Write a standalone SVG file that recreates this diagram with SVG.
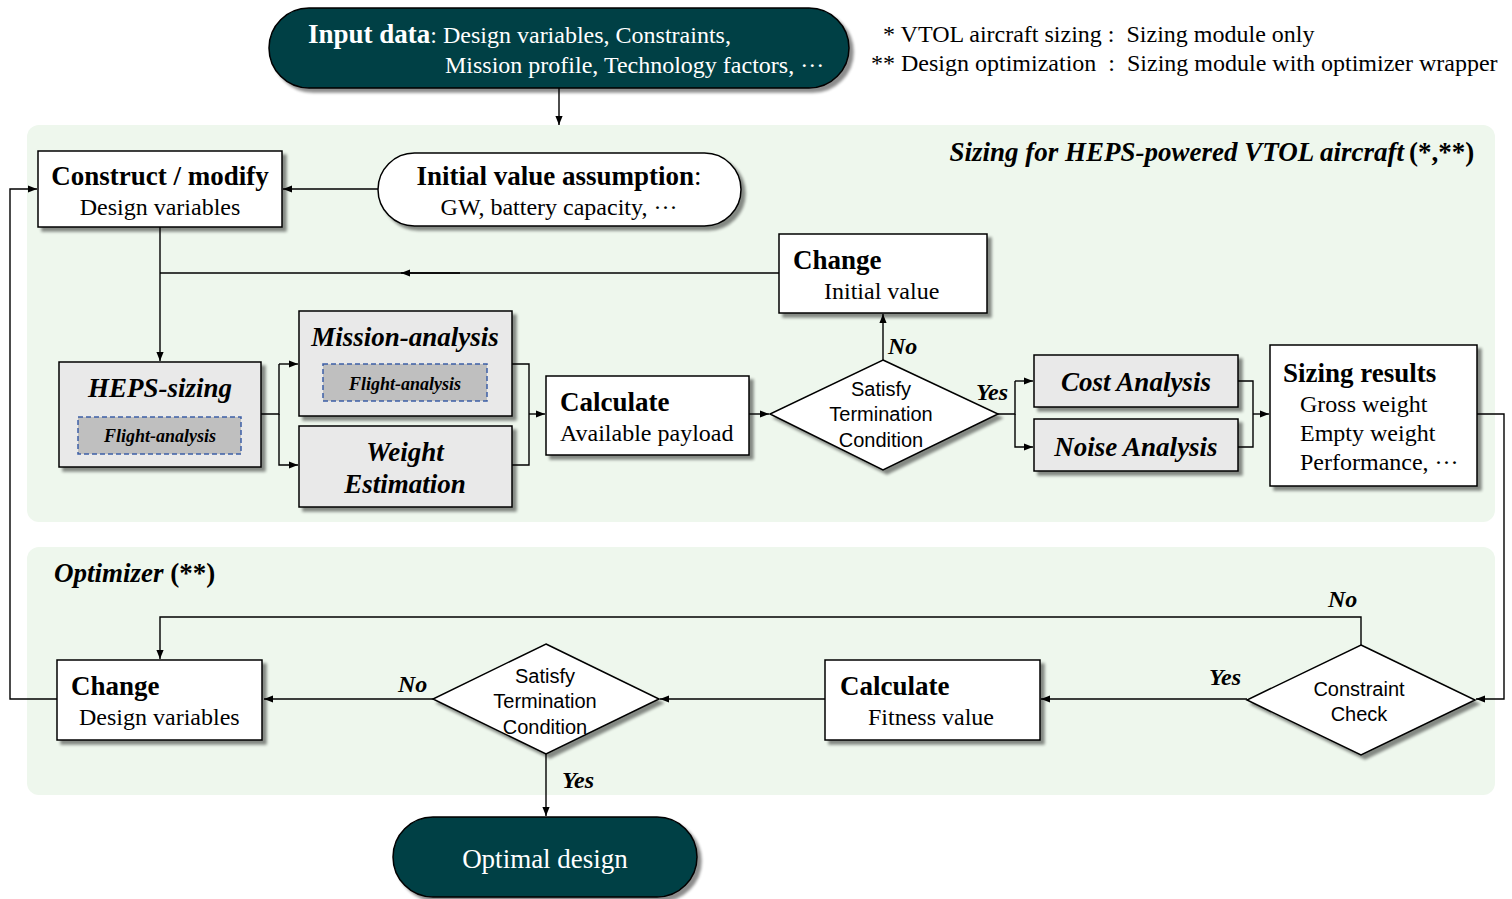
<svg xmlns="http://www.w3.org/2000/svg" width="1512" height="899" viewBox="0 0 1512 899">
<defs>
<filter id="sh" x="-10%" y="-10%" width="130%" height="140%">
<feGaussianBlur in="SourceAlpha" stdDeviation="1.5"/>
<feOffset dx="4" dy="4" result="b"/>
<feComponentTransfer><feFuncA type="linear" slope="0.45"/></feComponentTransfer>
<feMerge><feMergeNode/><feMergeNode in="SourceGraphic"/></feMerge>
</filter>
<marker id="ah" viewBox="0 0 10 10" refX="10" refY="5" markerWidth="9" markerHeight="9" markerUnits="userSpaceOnUse" orient="auto">
<path d="M0,1 L10,5 L0,9 z" fill="#000"/>
</marker>
</defs>
<style>
.panel{fill:#eef7ed;}
.box{fill:#fff;stroke:#000;stroke-width:1.5;filter:url(#sh);}
.gbox{fill:#e9e9e9;stroke:#000;stroke-width:1.5;filter:url(#sh);}
.dash{fill:#bfbfbf;stroke:#3d5fa6;stroke-width:1.5;stroke-dasharray:5,3;}
.dark{fill:#033f45;stroke:#000;stroke-width:1.5;filter:url(#sh);}
.ln{fill:none;stroke:#000;stroke-width:1.4;}
.arr{fill:none;stroke:#000;stroke-width:1.4;marker-end:url(#ah);}
.t{font-family:"Liberation Serif","Times New Roman",serif;fill:#000;}
.s{font-family:"Liberation Sans",Arial,sans-serif;fill:#000;}
.w{fill:#fff;}
.b{font-weight:bold;}
.i{font-style:italic;}
</style>

<rect class="panel" x="27" y="125" width="1468" height="397" rx="12"/>
<rect class="panel" x="27" y="547" width="1468" height="248" rx="12"/>

<text class="t b i" x="1404" y="161" font-size="27" text-anchor="end">Sizing for HEPS-powered VTOL aircraft</text>
<text class="t b" x="1409" y="161" font-size="27">(*,**)</text>
<text class="t b i" x="54" y="582" font-size="27">Optimizer <tspan font-style="normal">(**)</tspan></text>

<g id="legend">
<text class="t" x="883" y="42" font-size="24" xml:space="preserve">* VTOL aircraft sizing :  Sizing module only</text>
<text class="t" x="871" y="71" font-size="24" xml:space="preserve">** Design optimization  :  Sizing module with optimizer wrapper</text>
</g>

<g id="connectors">
<path class="arr" d="M559,88 V125"/>
<path class="arr" d="M378,189 H283"/>
<path class="arr" d="M160,227 V361"/>
<path class="ln" d="M779,273 H160"/>
<path class="arr" d="M460,273 H401"/>
<path class="ln" d="M261,414 H279 V364"/>
<path class="arr" d="M279,364 H298"/>
<path class="arr" d="M279,414 V465 H298"/>
<path class="ln" d="M512,364 H529 V465 H512"/>
<path class="arr" d="M529,414 H545"/>
<path class="arr" d="M749,414 H769"/>
<path class="arr" d="M883,360 V314"/>
<path class="ln" d="M998,414 H1015 V381"/>
<path class="arr" d="M1015,381 H1033"/>
<path class="arr" d="M1015,414 V447 H1033"/>
<path class="ln" d="M1238,381 H1253 V447 H1238"/>
<path class="arr" d="M1253,414 H1269"/>
<path class="arr" d="M1477,414 H1504 V699 H1476"/>
<path class="arr" d="M1361,645 V617 H160 V659"/>
<path class="arr" d="M1247,699 H1041"/>
<path class="arr" d="M825,699 H660"/>
<path class="arr" d="M433,699 H264"/>
<path class="arr" d="M57,699 H10 V189 H37"/>
<path class="arr" d="M546,754 V816"/>
<text class="t b i" x="888" y="354" font-size="24">No</text>
<text class="t b i" x="976" y="400" font-size="24">Yes</text>
<text class="t b i" x="1328" y="607" font-size="24">No</text>
<text class="t b i" x="1209" y="685" font-size="24">Yes</text>
<text class="t b i" x="398" y="692" font-size="24">No</text>
<text class="t b i" x="562" y="788" font-size="24">Yes</text>
</g>

<g id="input">
<rect class="dark" x="269" y="8" width="580" height="80" rx="40"/>
<text class="t w" x="308" y="43" font-size="24"><tspan class="b" font-size="27">Input data</tspan>: Design variables, Constraints,</text>
<text class="t w" x="445" y="73" font-size="24">Mission profile, Technology factors, ···</text>
</g>

<g id="construct">
<rect class="box" x="38" y="151" width="244" height="76"/>
<text class="t b" x="160" y="185" font-size="27" text-anchor="middle">Construct / modify</text>
<text class="t" x="160" y="215" font-size="24" text-anchor="middle">Design variables</text>
</g>

<g id="initial">
<rect class="box" x="378" y="153" width="363" height="73" rx="36.5"/>
<text class="t" x="559" y="185" font-size="27" text-anchor="middle"><tspan class="b">Initial value assumption</tspan>:</text>
<text class="t" x="559" y="215" font-size="24" text-anchor="middle">GW, battery capacity, ···</text>
</g>

<g id="heps">
<rect class="gbox" x="59" y="362" width="202" height="105"/>
<text class="t b i" x="160" y="397" font-size="27" text-anchor="middle">HEPS-sizing</text>
<rect class="dash" x="78" y="417" width="163" height="37"/>
<text class="t b i" x="160" y="442" font-size="18" text-anchor="middle">Flight-analysis</text>
</g>

<g id="mission">
<rect class="gbox" x="299" y="311" width="213" height="105"/>
<text class="t b i" x="405" y="346" font-size="27" text-anchor="middle">Mission-analysis</text>
<rect class="dash" x="323" y="364" width="164" height="37"/>
<text class="t b i" x="405" y="390" font-size="18" text-anchor="middle">Flight-analysis</text>
</g>

<g id="weight">
<rect class="gbox" x="299" y="426" width="213" height="81"/>
<text class="t b i" x="405" y="461" font-size="27" text-anchor="middle">Weight</text>
<text class="t b i" x="405" y="493" font-size="27" text-anchor="middle">Estimation</text>
</g>

<g id="calcPayload">
<rect class="box" x="546" y="376" width="203" height="79"/>
<text class="t b" x="560" y="411" font-size="27">Calculate</text>
<text class="t" x="560" y="441" font-size="24">Available payload</text>
</g>

<g id="term1">
<polygon class="box" points="883,360 998,414 883,470 770,414"/>
<text class="s" x="881" y="396" font-size="20" text-anchor="middle">Satisfy</text>
<text class="s" x="881" y="421" font-size="20" text-anchor="middle">Termination</text>
<text class="s" x="881" y="447" font-size="20" text-anchor="middle">Condition</text>
</g>

<g id="changeInit">
<rect class="box" x="779" y="234" width="208" height="79"/>
<text class="t b" x="793" y="269" font-size="27">Change</text>
<text class="t" x="824" y="299" font-size="24">Initial value</text>
</g>

<g id="cost">
<rect class="gbox" x="1034" y="355" width="204" height="52"/>
<text class="t b i" x="1136" y="391" font-size="27" text-anchor="middle">Cost Analysis</text>
</g>

<g id="noise">
<rect class="gbox" x="1034" y="419" width="204" height="52"/>
<text class="t b i" x="1136" y="456" font-size="27" text-anchor="middle">Noise Analysis</text>
</g>

<g id="results">
<rect class="box" x="1270" y="345" width="207" height="141"/>
<text class="t b" x="1283" y="382" font-size="27">Sizing results</text>
<text class="t" x="1300" y="412" font-size="24">Gross weight</text>
<text class="t" x="1300" y="441" font-size="24">Empty weight</text>
<text class="t" x="1300" y="470" font-size="24">Performance, ···</text>
</g>

<g id="constraint">
<polygon class="box" points="1361,645 1475,700 1361,755 1247,700"/>
<text class="s" x="1359" y="696" font-size="20" text-anchor="middle">Constraint</text>
<text class="s" x="1359" y="721" font-size="20" text-anchor="middle">Check</text>
</g>

<g id="calcFitness">
<rect class="box" x="825" y="660" width="215" height="80"/>
<text class="t b" x="840" y="695" font-size="27">Calculate</text>
<text class="t" x="868" y="725" font-size="24">Fitness value</text>
</g>

<g id="term2">
<polygon class="box" points="546,644 659,699 546,754 433,699"/>
<text class="s" x="545" y="683" font-size="20" text-anchor="middle">Satisfy</text>
<text class="s" x="545" y="708" font-size="20" text-anchor="middle">Termination</text>
<text class="s" x="545" y="734" font-size="20" text-anchor="middle">Condition</text>
</g>

<g id="changeDesign">
<rect class="box" x="57" y="660" width="205" height="80"/>
<text class="t b" x="71" y="695" font-size="27">Change</text>
<text class="t" x="79" y="725" font-size="24">Design variables</text>
</g>

<g id="optimal">
<rect class="dark" x="393" y="817" width="304" height="80" rx="40"/>
<text class="t w" x="545" y="868" font-size="27" text-anchor="middle">Optimal design</text>
</g>
</svg>
